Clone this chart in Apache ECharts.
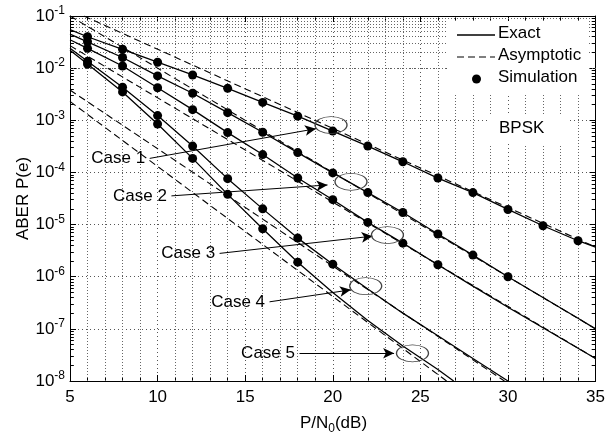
<!DOCTYPE html>
<html>
<head>
<meta charset="utf-8">
<script src="https://cdn.jsdelivr.net/npm/echarts@6.0.0/dist/echarts.min.js"></script>
<style>
html, body { margin: 0; padding: 0; background: #fff; }
#main { width: 608px; height: 434px; }
</style>
</head>
<body>
<div id="main"></div>
<script>
// exact ABER curves, [P/N0 (dB), ABER]
var exact1 = [[5,5.5e-2],[6,4.0e-2],[8,2.3e-2],[10,1.3e-2],[12,7.4e-3],[14,4.1e-3],[16,2.2e-3],[18,1.2e-3],[20,6.2e-4],[22,3.2e-4],[24,1.6e-4],[26,7.8e-5],[28,4.1e-5],[30,1.95e-5],[32,9.5e-6],[34,4.9e-6],[35,3.7e-6]];
var exact2 = [[5,4.5e-2],[6,3.2e-2],[8,1.6e-2],[10,7.1e-3],[12,3.3e-3],[14,1.4e-3],[16,5.9e-4],[18,2.4e-4],[20,9.8e-5],[22,4.1e-5],[24,1.7e-5],[26,6.6e-6],[28,2.6e-6],[30,1.0e-6],[32,4.0e-7],[34,1.6e-7],[35,1.0e-7]];
var exact3 = [[5,3.5e-2],[6,2.4e-2],[8,1.1e-2],[10,4.2e-3],[12,1.6e-3],[14,5.8e-4],[16,2.2e-4],[18,7.8e-5],[20,3.0e-5],[22,1.1e-5],[24,4.4e-6],[26,1.7e-6],[28,6.6e-7],[30,2.6e-7],[32,1.05e-7],[35,2.7e-8]];
var exact4 = [[5,2.4e-2],[6,1.35e-2],[8,4.3e-3],[10,1.23e-3],[12,3.2e-4],[14,7.6e-5],[16,2.0e-5],[18,5.5e-6],[20,1.74e-6],[22,5.8e-7],[24,2.0e-7],[26,7.4e-8],[28,2.7e-8],[30,1.0e-8]];
var exact5 = [[5,2.2e-2],[6,1.2e-2],[8,3.5e-3],[10,8.5e-4],[12,1.86e-4],[14,3.8e-5],[16,8.3e-6],[18,1.9e-6],[20,5.0e-7],[22,1.45e-7],[24,4.7e-8],[26,1.66e-8],[26.9,1.0e-8]];

// asymptotic approximations
var asym1 = [[5.8,1.0e-1],[35,3.7e-6]];
var asym2 = [[5.0,1.0e-1],[35,1.0e-7]];
var asym3 = [[5.0,2.7e-2],[35,2.7e-8]];
var asym4 = [[5.0,3.8e-3],[29.8,1.0e-8]];
var asym5 = [[5.0,2.3e-3],[26.5,1.0e-8]];

// simulation points
var simSnr = [6,8,10,12,14,16,18,20,22,24,26,28,30,32,34];
var sim1 = [4.0e-2,2.3e-2,1.3e-2,7.4e-3,4.1e-3,2.2e-3,1.2e-3,6.2e-4,3.2e-4,1.6e-4,7.8e-5,4.1e-5,1.95e-5,9.5e-6,4.9e-6];
var sim2 = [3.2e-2,1.6e-2,7.1e-3,3.3e-3,1.4e-3,5.9e-4,2.4e-4,9.8e-5,4.1e-5,1.7e-5,6.6e-6,2.6e-6,1.0e-6];
var sim3 = [2.4e-2,1.1e-2,4.2e-3,1.6e-3,5.8e-4,2.2e-4,7.8e-5,3.0e-5,1.1e-5,4.4e-6,1.7e-6];
var sim4 = [1.35e-2,4.3e-3,1.23e-3,3.2e-4,7.6e-5,2.0e-5,5.5e-6,1.74e-6];
var sim5 = [1.2e-2,3.5e-3,8.5e-4,1.86e-4,3.8e-5,8.3e-6,1.9e-6];

// annotations
var caseNames = ['Case 1','Case 2','Case 3','Case 4','Case 5'];
var arrowFrom = [[9.55,1.86e-4],[10.79,3.55e-5],[13.54,2.8e-6],[16.39,3.3e-7],[18.1,3.4e-8]];
var arrowTo = [[19.04,6.9e-4],[19.7,5.75e-5],[22.27,6.0e-6],[21.03,5.6e-7],[23.5,3.4e-8]];
var ellipseAt = [[19.9,8.1e-4],[21.04,6.6e-5],[23.12,6.3e-6],[21.88,6.6e-7],[24.55,3.4e-8]];

var FONT = 'Liberation Sans, Arial, sans-serif';
var myChart = echarts.init(document.getElementById('main'));

function pairs(xs, ys) {
    var out = [];
    for (var i = 0; i < ys.length; i++) out.push([xs[i], ys[i]]);
    return out;
}

// minor grid + minor y ticks
var gridLines = [];
var tickSegs = [];
for (var e = -8; e < -1; e++) {
    for (var m = 2; m <= 9; m++) {
        var v = m * Math.pow(10, e);
        gridLines.push({ yAxis: v });
        tickSegs.push([{ coord: [5, v] }, { coord: [5.22, v] }]);
        tickSegs.push([{ coord: [34.78, v] }, { coord: [35, v] }]);
    }
}
for (var x = 6; x < 35; x++) {
    if (x % 5 !== 0) gridLines.push({ xAxis: x });
}

var exactAll = [exact1, exact2, exact3, exact4, exact5];
var asymAll = [asym1, asym2, asym3, asym4, asym5];
var simAll = [sim1, sim2, sim3, sim4, sim5];

var series = [];
series.push({
    type: 'line', data: [], silent: true, z: 1,
    markLine: {
        silent: true, symbol: 'none', z: 1, animation: false,
        label: { show: false },
        lineStyle: { color: '#666', width: 1, type: [1, 2] },
        data: gridLines
    }
});
series.push({
    type: 'line', data: [], silent: true, z: 1,
    markLine: {
        silent: true, symbol: 'none', z: 1, animation: false,
        label: { show: false },
        lineStyle: { color: '#000', width: 1, type: 'solid' },
        data: tickSegs
    }
});
for (var i = 0; i < 5; i++) {
    series.push({
        name: 'Exact', type: 'line', data: exactAll[i], showSymbol: false, z: 3,
        lineStyle: { color: '#000', width: 1.3 }, animation: false
    });
    series.push({
        name: 'Asymptotic', type: 'line', data: asymAll[i], showSymbol: false, z: 3,
        lineStyle: { color: '#000', width: 1.1, type: [7, 4] }, animation: false
    });
    series.push({
        name: 'Simulation', type: 'scatter', data: pairs(simSnr, simAll[i]), z: 4,
        symbol: 'circle', symbolSize: 9, itemStyle: { color: '#000', opacity: 1 }, animation: false
    });
}

// case annotations
var ellipses = [], labels = [], arrows = [];
for (var k = 0; k < 5; k++) {
    ellipses.push({
        coord: ellipseAt[k], symbol: 'circle', symbolSize: [32, 17],
        itemStyle: { color: 'rgba(0,0,0,0)', borderColor: '#444', borderWidth: 1 },
        label: { show: false }
    });
    labels.push({
        coord: arrowFrom[k], symbol: 'circle', symbolSize: 1,
        itemStyle: { color: 'rgba(0,0,0,0)' },
        label: { show: true, position: 'left', distance: 4, formatter: caseNames[k],
                 color: '#000', fontSize: 17, fontFamily: FONT }
    });
    arrows.push([{ coord: arrowFrom[k] }, { coord: arrowTo[k] }]);
}
series.push({
    type: 'line', data: [], silent: true, z: 6,
    markPoint: { silent: true, animation: false, data: ellipses.concat(labels) },
    markLine: {
        silent: true, animation: false, symbol: ['none', 'arrow'], symbolSize: [8, 11],
        label: { show: false },
        lineStyle: { color: '#000', width: 1, type: 'solid' },
        data: arrows
    }
});

var dotted = { show: true, lineStyle: { color: '#555', width: 1, type: [1, 3] } };

myChart.setOption({
    animation: false,
    grid: { left: 70, right: 11, top: 16, bottom: 53 },
    xAxis: [{
        type: 'value', min: 5, max: 35, interval: 5,
        axisLine: { show: true, lineStyle: { color: '#000', width: 1 } },
        axisTick: { show: true, inside: true, length: 6, lineStyle: { color: '#000' } },
        minorTick: { show: true, splitNumber: 5, length: 4, lineStyle: { color: '#000' } },
        axisLabel: { color: '#000', fontSize: 17, fontFamily: FONT, margin: 8 },
        splitLine: dotted
    }, {
        type: 'value', min: 5, max: 35, interval: 5, position: 'top',
        axisLine: { show: true, lineStyle: { color: '#000', width: 1 } },
        axisTick: { show: true, inside: true, length: 6, lineStyle: { color: '#000' } },
        minorTick: { show: true, splitNumber: 5, length: 4, lineStyle: { color: '#000' } },
        axisLabel: { show: false },
        splitLine: { show: false }
    }],
    yAxis: [{
        type: 'log', logBase: 10, min: 1e-8, max: 1e-1, splitNumber: 7,
        axisLine: { show: true, lineStyle: { color: '#000', width: 1 } },
        axisTick: { show: true, inside: true, length: 6, lineStyle: { color: '#000' } },
        axisLabel: {
            margin: 5,
            formatter: function (val) {
                return '{b|10}{s|' + Math.round(Math.log10(val)) + '}';
            },
            rich: {
                b: { fontSize: 17, fontFamily: FONT, color: '#000', lineHeight: 22 },
                s: { fontSize: 12, fontFamily: FONT, color: '#000', verticalAlign: 'top', lineHeight: 22 }
            }
        },
        splitLine: dotted
    }, {
        type: 'log', logBase: 10, min: 1e-8, max: 1e-1, splitNumber: 7, position: 'right',
        axisLine: { show: true, lineStyle: { color: '#000', width: 1 } },
        axisTick: { show: true, inside: true, length: 6, lineStyle: { color: '#000' } },
        axisLabel: { show: false },
        splitLine: { show: false }
    }],
    graphic: [
        // axis titles
        { type: 'text', x: 23, y: 198.5, rotation: Math.PI / 2, z: 101,
          style: { text: 'ABER P(e)', font: '17px ' + FONT, fill: '#000', align: 'center', verticalAlign: 'middle' } },
        { type: 'text', x: 333.5, y: 425, z: 101,
          style: {
              text: '{n|P/N}{s|0}{n|(dB)}', align: 'center', verticalAlign: 'middle',
              rich: {
                  n: { fontSize: 17, fontFamily: FONT, fill: '#000', lineHeight: 20, verticalAlign: 'top' },
                  s: { fontSize: 12, fontFamily: FONT, fill: '#000', lineHeight: 14, verticalAlign: 'bottom', padding: [11, 0, 0, 0] }
              }
          } },
        // legend
        { type: 'rect', left: 448, top: 21, z: 100, shape: { width: 140, height: 72 }, style: { fill: '#fff' } },
        { type: 'line', z: 101, shape: { x1: 457, y1: 35, x2: 495, y2: 35 }, style: { stroke: '#000', lineWidth: 1.3 } },
        { type: 'line', z: 101, shape: { x1: 457, y1: 57, x2: 495, y2: 57 }, style: { stroke: '#000', lineWidth: 1.1, lineDash: [7, 4] } },
        { type: 'circle', z: 101, shape: { cx: 476.5, cy: 79, r: 4.5 }, style: { fill: '#000' } },
        { type: 'text', z: 101, left: 498, top: 25, style: { text: 'Exact', font: '17px ' + FONT, fill: '#000' } },
        { type: 'text', z: 101, left: 498, top: 47, style: { text: 'Asymptotic', font: '17px ' + FONT, fill: '#000' } },
        { type: 'text', z: 101, left: 498, top: 69, style: { text: 'Simulation', font: '17px ' + FONT, fill: '#000' } },
        { type: 'rect', left: 488, top: 116, z: 100, shape: { width: 82, height: 28 }, style: { fill: '#fff' } },
        { type: 'text', z: 101, left: 499, top: 120, style: { text: 'BPSK', font: '17px ' + FONT, fill: '#000' } }
    ],
    series: series
});
</script>
</body>
</html>
